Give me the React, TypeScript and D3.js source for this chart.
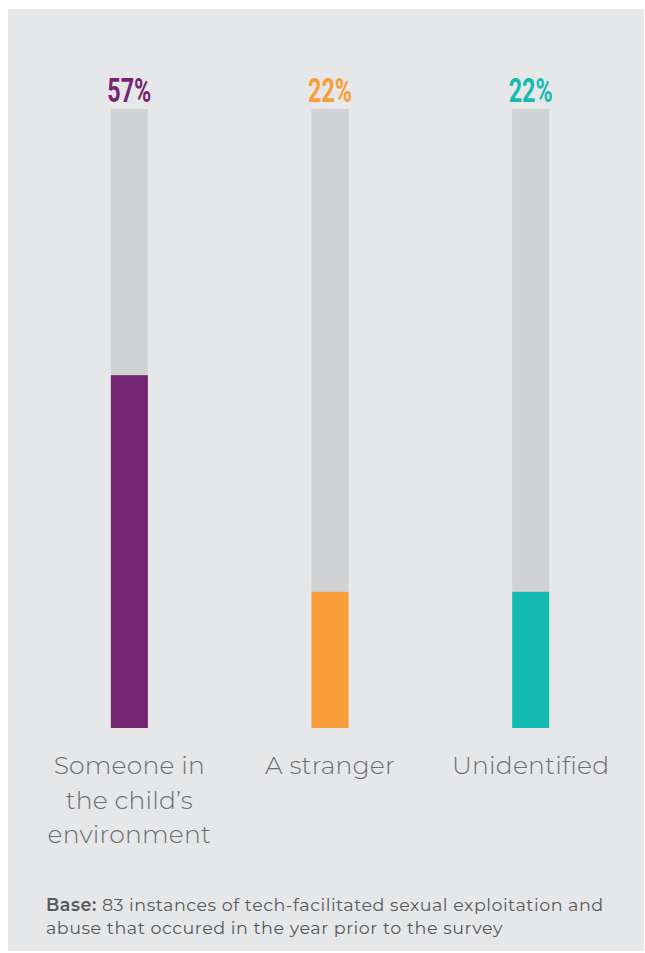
import React from "react";
import * as d3 from "d3";

const categories = ["Someone in the child’s environment", "A stranger", "Unidentified"];
const labelLines = [["Someone in", "the child’s", "environment"], ["A stranger"], ["Unidentified"]];
const values = [57, 22, 22];
const valueLabels = ["57%", "22%", "22%"];
const colors = ["#732572", "#f99d3a", "#13bbb0"];
const footBold = "Base:";
const footLines = [" 83 instances of tech-facilitated sexual exploitation and", "abuse that occured in the year prior to the survey"];

const W = 645;
const H = 953;

export default function App() {
  const x = d3.scaleBand<string>().domain(categories).range([29, 631]).paddingInner(0.0);
  const barW = 37;
  const y = d3.scaleLinear().domain([0, 100]).range([728, 109]);
  return (
    <svg width={W} height={H} style={{ position: "absolute", left: 0, top: 0 }}>
      <rect x={8} y={9} width={636} height={942} fill="#e6e7e8" />
      {categories.map((c, i) => {
        const cx = (x(c) as number) + x.bandwidth() / 2;
        return (
          <g key={c}>
            <rect x={cx - barW / 2} y={y(100)} width={barW} height={y(0) - y(100)} fill="#d1d2d4" />
            <rect x={cx - barW / 2} y={y(values[i])} width={barW} height={y(0) - y(values[i])} fill={colors[i]} />
            <text
              x={cx}
              y={102}
              textAnchor="middle"
              fill={colors[i]}
              fontFamily="Roboto, 'DejaVu Sans'"
              fontWeight={700}
              fontSize={34}
              textLength={44}
              lengthAdjust="spacingAndGlyphs"
            >
              {valueLabels[i]}
            </text>
            {labelLines[i].map((l, j) => (
              <text
                key={j}
                x={cx}
                y={774 + j * 34.5}
                textAnchor="middle"
                fill="#6d6e71"
                fontFamily="Montserrat, 'Open Sans', sans-serif"
                fontWeight={300}
                fontSize={25}
                letterSpacing={0.2}
              >
                {l}
              </text>
            ))}
          </g>
        );
      })}
      <text x={46} y={911} fill="#58595b" fontFamily="Montserrat, 'Open Sans', sans-serif" fontSize={17.5} letterSpacing={0.53}>
        <tspan fontWeight={600}>{footBold}</tspan>
        <tspan fontWeight={400}>{footLines[0]}</tspan>
      </text>
      <text x={46} y={934} fill="#58595b" fontFamily="Montserrat, 'Open Sans', sans-serif" fontSize={17.5} letterSpacing={0.53}>
        {footLines[1]}
      </text>
    </svg>
  );
}
